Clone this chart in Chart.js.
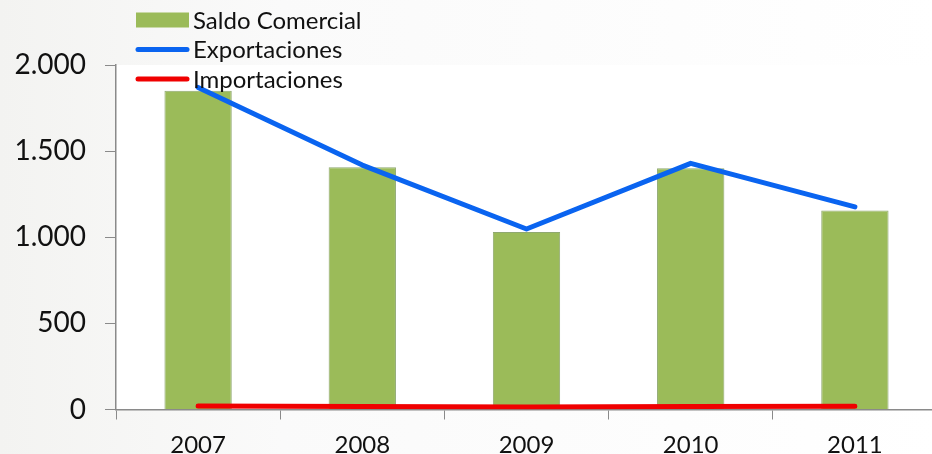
<!DOCTYPE html>
<html>
<head>
<meta charset="utf-8">
<script src="https://cdn.jsdelivr.net/npm/chart.js@4"></script>
<style>
  html,body{margin:0;padding:0;overflow:hidden;background:#fbfbfa;}
  #wrap{position:relative;width:940px;height:454px;}
</style>
</head>
<body>
<div id="wrap"><canvas id="c"></canvas></div>
<script>
// ── Data ──────────────────────────────────────────────────────────────────────
const years=['2007','2008','2009','2010','2011'];
const saldo=[1851,1406,1030,1400,1156];
const exportaciones=[1870,1419,1048,1429,1176];
const importaciones=[20,17,14,18,19];
const yTicks=[0,500,1000,1500,2000];

const fmtNum=v=>v.toLocaleString('de-DE');

// page background + white plot area
const bgPlug={id:'bgPlug',beforeDraw(chart){
  const {ctx,chartArea:a}=chart;
  ctx.save();
  const g=ctx.createLinearGradient(0,0,chart.width,0);
  g.addColorStop(0,'#f3f3f1');g.addColorStop(0.3,'#fafafa');g.addColorStop(1,'#ffffff');
  ctx.fillStyle=g;ctx.fillRect(0,0,chart.width,chart.height);
  ctx.fillStyle='#ffffff';ctx.fillRect(a.left,a.top,a.right-a.left,a.bottom-a.top);
  ctx.restore();
}};

// vertical legend in the top-left corner
const legPlug={id:'legPlug',afterDraw(chart){
  const ctx=chart.ctx, x0=136, w=53, rowH=29.5, top=20;
  ctx.save();
  ctx.font='24px Lato';ctx.textBaseline='middle';
  chart.data.datasets.forEach((ds,i)=>{
    const yc=top+i*rowH;
    if (ds.type==='bar') {
      ctx.fillStyle=ds.backgroundColor;ctx.fillRect(x0,yc-7.5,w,15);
    } else {
      ctx.strokeStyle=ds.borderColor;ctx.lineWidth=5;ctx.lineCap='round';
      ctx.beginPath();ctx.moveTo(x0+2,yc);ctx.lineTo(x0+w-2,yc);ctx.stroke();
    }
    ctx.fillStyle='#111';ctx.fillText(ds.label,x0+w+4,yc+1);
  });
  ctx.restore();
}};

new Chart(document.getElementById('c'),{
  data:{labels:years,datasets:[
    {type:'bar',label:'Saldo Comercial',data:saldo,backgroundColor:'#9bbb59',borderColor:'#8fa870',borderWidth:1,
     categoryPercentage:1,barPercentage:0.41,order:3},
    {type:'line',label:'Exportaciones',data:exportaciones,borderColor:'#0a64f0',borderWidth:5,pointRadius:0,
     borderCapStyle:'round',borderJoinStyle:'round',tension:0,fill:false,order:1},
    {type:'line',label:'Importaciones',data:importaciones,borderColor:'#f00000',borderWidth:5,pointRadius:0,
     borderCapStyle:'round',borderJoinStyle:'round',tension:0,fill:false,order:2}
  ]},
  plugins:[bgPlug,legPlug],
  options:{responsive:true,maintainAspectRatio:false,animation:false,devicePixelRatio:1,
    layout:{padding:{top:65,right:3,left:0,bottom:0}},
    plugins:{legend:{display:false},tooltip:{enabled:false}},
    scales:{
      x:{offset:true,
        grid:{offset:true,drawOnChartArea:false,drawTicks:true,tickLength:10,color:'#8a8a8a'},
        border:{display:true,color:'#8a8a8a',width:1.5},
        ticks:{color:'#111',font:{family:'Lato',size:24},padding:11},
        afterFit:s=>{s.height=44.5;}},
      y:{min:0,max:2000,afterBuildTicks:s=>{s.ticks=yTicks.map(v=>({value:v}));},
        grid:{drawOnChartArea:false,drawTicks:true,tickLength:11,color:'#8a8a8a'},
        border:{display:true,color:'#8a8a8a',width:1.5},
        ticks:{color:'#111',font:{family:'Lato',size:28},padding:19,callback:v=>fmtNum(v)},
        afterFit:s=>{s.width=116;}}
    }}
});
</script>
</body>
</html>
